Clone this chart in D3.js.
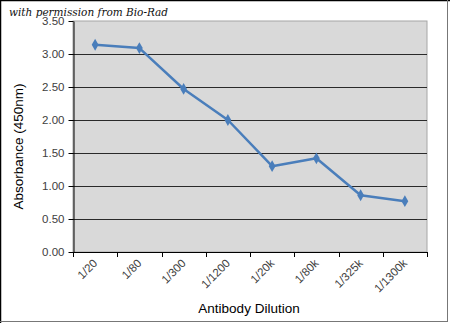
<!DOCTYPE html>
<html><head><meta charset="utf-8">
<script src="https://cdn.jsdelivr.net/npm/d3@7"></script>
<style>body{margin:0;background:#fff}svg{display:block}</style>
</head><body><svg id="c" width="450" height="323"></svg>
<script>
const categories = ["1/20","1/80","1/300","1/1200","1/20k","1/80k","1/325k","1/1300k"];
const absorbance = [3.14, 3.09, 2.47, 2.00, 1.30, 1.42, 0.86, 0.77];
const yTicks = [0, 0.5, 1.0, 1.5, 2.0, 2.5, 3.0, 3.5];

const svg = d3.select("#c");
const W = 450, H = 323;
const m = {left: 73, right: 23, top: 21, bottom: 71};
const x = d3.scaleBand().domain(categories).range([m.left, W - m.right]).padding(0);
const y = d3.scaleLinear().domain([0, 3.5]).range([H - m.bottom, m.top]);

// outer frame
svg.append("rect").attr("x",0).attr("y",0).attr("width",W).attr("height",H).attr("fill","#fff");
svg.append("line").attr("x1",0).attr("x2",W).attr("y1",0.5).attr("y2",0.5).attr("stroke","#000").attr("stroke-width",1.5);
svg.append("line").attr("x1",0.5).attr("x2",0.5).attr("y1",0).attr("y2",H).attr("stroke","#000").attr("stroke-width",1.5);
svg.append("line").attr("x1",447.5).attr("x2",447.5).attr("y1",0).attr("y2",322).attr("stroke","#777").attr("stroke-width",1);
svg.append("line").attr("x1",0).attr("x2",448).attr("y1",321.5).attr("y2",321.5).attr("stroke","#777").attr("stroke-width",1);

// plot background
svg.append("rect").attr("x",m.left).attr("y",m.top).attr("width",W-m.right-m.left).attr("height",H-m.bottom-m.top)
  .attr("fill","#d9d9d9").attr("stroke","#a6a6a6").attr("stroke-width",1);

// gridlines
svg.append("g").selectAll("line").data(yTicks.filter(d=>d>0 && d<3.5)).join("line")
  .attr("x1",m.left).attr("x2",W-m.right)
  .attr("y1",d=>Math.round(y(d))+0.5).attr("y2",d=>Math.round(y(d))+0.5)
  .attr("stroke","#2a2a2a").attr("stroke-width",1);

// y axis
const yAxis = d3.axisLeft(y).tickValues(yTicks).tickFormat(d3.format(".2f")).tickSizeInner(5).tickSizeOuter(0).tickPadding(4);
const gy = svg.append("g").attr("transform",`translate(${m.left+0.5},0)`).call(yAxis);
gy.select(".domain").attr("stroke","#000");
gy.selectAll(".tick line").attr("stroke","#000");
gy.selectAll("text").attr("font-family","Arial, 'Liberation Sans', sans-serif").attr("font-size",11.5).attr("fill","#404040");

// x axis
const boundaries = categories.map(c=>x(c)).concat([W-m.right]);
const gx = svg.append("g");
gx.append("line").attr("x1",m.left).attr("x2",W-m.right).attr("y1",y(0)+0.5).attr("y2",y(0)+0.5).attr("stroke","#000");
gx.selectAll("line.t").data(boundaries).join("line").attr("class","t")
  .attr("x1",d=>Math.round(d)+0.5).attr("x2",d=>Math.round(d)+0.5)
  .attr("y1",y(0)).attr("y2",y(0)+5).attr("stroke","#000");
gx.selectAll("text").data(categories).join("text")
  .attr("transform",d=>`translate(${x(d)+x.bandwidth()/2+3},${y(0)+12}) rotate(-45)`)
  .attr("text-anchor","end")
  .attr("font-family","Arial, 'Liberation Sans', sans-serif").attr("font-size",11.5).attr("fill","#404040")
  .text(d=>d);

// line series
const line = d3.line().x((d,i)=>x(categories[i])+x.bandwidth()/2).y(d=>y(d));
svg.append("path").datum(absorbance).attr("d",line).attr("fill","none")
  .attr("stroke","#4a7ebb").attr("stroke-width",2.5).attr("stroke-linejoin","round");
svg.append("g").selectAll("path").data(absorbance).join("path")
  .attr("d",d3.symbol().type(d3.symbolDiamond).size(40))
  .attr("transform",(d,i)=>`translate(${x(categories[i])+x.bandwidth()/2},${y(d)})`)
  .attr("fill","#4a7ebb");

// titles
svg.append("text").attr("transform",`translate(23,${(m.top+H-m.bottom)/2+10}) rotate(-90)`)
  .attr("text-anchor","middle").attr("font-family","Arial, 'Liberation Sans', sans-serif").attr("font-size",13.5).attr("fill","#000")
  .text("Absorbance (450nm)");
svg.append("text").attr("x",249).attr("y",313)
  .attr("text-anchor","middle").attr("font-family","Arial, 'Liberation Sans', sans-serif").attr("font-size",13.5).attr("fill","#000")
  .text("Antibody Dilution");

// watermark
svg.append("text").attr("x",9).attr("y",16)
  .attr("font-family","'DejaVu Serif', serif").attr("font-style","italic").attr("font-size",10.5).attr("fill","#111")
  .text("with permission from Bio-Rad");
</script></body></html>
